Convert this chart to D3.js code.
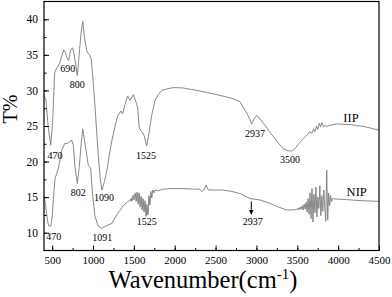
<!DOCTYPE html>
<html>
<head>
<meta charset="utf-8">
<script src="https://cdn.jsdelivr.net/npm/d3@7"></script>
<style>
  body { margin: 0; background: #fff; }
  svg text { font-family: "Liberation Serif", "Times New Roman", serif; fill: #000; }
</style>
</head>
<body>
<svg id="chart" width="392" height="297"></svg>
<script>
// FTIR spectra data (wavenumber cm-1, transmittance %)
const iipWave = [400, 424, 450, 482, 505, 531, 560, 590, 641, 660, 680, 702, 725, 751, 765, 790, 808, 830, 855, 874, 895, 926, 950, 979, 1000, 1028, 1050, 1069, 1090, 1110, 1140, 1171, 1200, 1232, 1270, 1302, 1342, 1363, 1390, 1424, 1453, 1493, 1530, 1547, 1566, 1596, 1624, 1657, 1685, 1718, 1758, 1800, 1840, 1900, 1983, 2100, 2269, 2400, 2554, 2700, 2799, 2860, 2888, 2920, 2942, 2970, 3003, 3050, 3105, 3160, 3227, 3290, 3329, 3390, 3430, 3472, 3510, 3554, 3600, 3635, 3650, 3680, 3700, 3715, 3735, 3750, 3770, 3785, 3800, 3820, 3840, 3860, 3900, 3982, 4050, 4145, 4230, 4308, 4400, 4500];
const iipT = [29.4, 28.6, 25.0, 22.3, 25.5, 32.6, 33.2, 33.8, 35.7, 35.4, 34.6, 34.2, 35.6, 36.0, 35.2, 33.5, 32.1, 35.0, 38.2, 39.7, 37.5, 35.4, 35.1, 34.4, 31.5, 27.2, 23.2, 20.2, 17.4, 16.0, 17.2, 18.8, 21.0, 23.0, 25.0, 26.4, 27.1, 26.7, 28.0, 29.2, 28.6, 29.4, 28.2, 27.5, 24.7, 24.2, 23.7, 22.2, 24.0, 26.5, 28.6, 29.4, 30.0, 30.2, 30.4, 30.35, 30.0, 29.7, 29.3, 28.9, 28.4, 27.2, 26.7, 25.9, 25.3, 26.0, 26.5, 25.9, 25.1, 24.2, 23.2, 22.3, 21.8, 21.5, 21.5, 21.8, 22.4, 23.0, 23.5, 23.9, 24.2, 24.0, 24.6, 24.2, 25.0, 24.5, 25.4, 24.9, 25.5, 24.9, 25.1, 24.95, 25.1, 25.3, 25.25, 25.2, 25.05, 24.95, 24.7, 24.4];

const nipWave = [400, 420, 437, 455, 482, 500, 514, 535, 575, 617, 657, 685, 710, 739, 759, 779, 808, 832, 855, 874, 902, 942, 972, 996, 1024, 1065, 1106, 1167, 1229, 1290, 1371, 1420, 1460, 1466, 1472, 1478, 1484, 1490, 1496, 1502, 1508, 1514, 1520, 1526, 1532, 1538, 1544, 1550, 1556, 1562, 1568, 1574, 1580, 1586, 1592, 1598, 1604, 1610, 1616, 1622, 1628, 1634, 1640, 1646, 1652, 1658, 1664, 1670, 1676, 1682, 1688, 1694, 1700, 1706, 1712, 1718, 1724, 1730, 1736, 1748, 1760, 1800, 1850, 1942, 2100, 2309, 2330, 2360, 2383, 2411, 2500, 2594, 2700, 2799, 2921, 3044, 3150, 3248, 3370, 3450, 3500, 3512, 3524, 3536, 3548, 3560, 3572, 3584, 3596, 3608, 3620, 3632, 3644, 3656, 3668, 3680, 3692, 3704, 3716, 3728, 3740, 3752, 3764, 3776, 3788, 3800, 3812, 3824, 3836, 3848, 3860, 3872, 3884, 3896, 3908, 3920, 3932, 3960, 4100, 4300, 4500];
const nipT = [15.2, 13.8, 12.2, 11.0, 10.9, 12.2, 14.6, 17.6, 19.0, 21.6, 22.6, 22.5, 22.8, 23.0, 22.3, 19.3, 16.9, 19.3, 22.5, 24.6, 22.5, 19.5, 19.0, 15.1, 12.3, 10.9, 10.6, 11.0, 11.3, 12.5, 13.8, 14.3, 14.7, 14.4, 14.9, 14.5, 14.6, 15.3, 15.2, 14.6, 14.8, 15.6, 15.5, 14.4, 14.6, 15.7, 15.4, 14.0, 14.2, 15.6, 15.3, 13.6, 13.8, 15.1, 14.9, 13.2, 13.4, 14.8, 14.6, 12.9, 13.0, 14.5, 14.2, 12.3, 12.4, 14.0, 13.6, 12.5, 12.8, 15.2, 15.0, 13.9, 14.2, 15.8, 15.6, 14.9, 15.2, 16.0, 15.9, 15.6, 16.0, 15.9, 16.1, 16.2, 16.2, 16.1, 15.8, 16.0, 16.7, 16.0, 16.0, 16.0, 15.8, 15.5, 14.8, 14.6, 14.2, 13.7, 13.2, 13.2, 13.3, 13.5, 13.2, 13.6, 13.3, 13.8, 13.2, 14.0, 13.3, 14.3, 12.9, 14.8, 12.6, 15.6, 12.0, 16.2, 11.5, 15.4, 12.8, 16.4, 12.2, 15.0, 13.4, 16.6, 12.4, 15.2, 13.0, 16.0, 13.6, 11.6, 18.8, 11.8, 15.6, 13.8, 15.2, 14.4, 14.8, 14.75, 14.65, 14.5, 14.4];

// peak annotations: text, wavenumber, T (anchor for label centre/baseline)
const peakLabels = ["690", "800", "470", "1525", "2937", "3500", "802", "1090", "1525", "470", "1091", "2937"];
const peakWave = [690, 808, 535, 1648, 2982, 3411, 820, 1134, 1657, 519, 1114, 2954];
const peakT = [32.6, 30.3, 20.4, 20.4, 23.5, 19.8, 15.2, 14.5, 11.1, 9.0, 8.9, 11.1];

const seriesNames = ["IIP", "NIP"];
const seriesLabelWave = [4157, 4227];
const seriesLabelT = [25.6, 15.2];

const xTicks = [500, 1000, 1500, 2000, 2500, 3000, 3500, 4000, 4500];
const yTicks = [10, 15, 20, 25, 30, 35, 40];

const svg = d3.select("#chart");
const plotLeft = 44, plotRight = 379, plotTop = 1.5, plotBottom = 250.5;

const x = d3.scaleLinear().domain([400, 4500]).range([plotLeft, plotRight]);
const y = d3.scaleLinear().domain([7.5, 42.5]).range([plotBottom, plotTop]);

// curves
const line = d3.line().x(d => x(d[0])).y(d => y(d[1]));
const iip = iipWave.map((w, i) => [w, iipT[i]]);
const nip = nipWave.map((w, i) => [w, nipT[i]]);

[iip, nip].forEach(d => {
  svg.append("path")
    .datum(d)
    .attr("d", line)
    .attr("fill", "none")
    .attr("stroke", "#7a7a7a")
    .attr("stroke-width", 0.9)
    .attr("stroke-linejoin", "round");
});

// axes with inward ticks
const xMinor = d3.range(500, 4500, 250);
svg.append("g")
  .attr("transform", `translate(0,${plotBottom})`)
  .call(d3.axisBottom(x).tickValues(xMinor).tickSize(-2.5).tickFormat(""))
  .call(g => g.select(".domain").remove());
svg.append("g")
  .attr("transform", `translate(0,${plotBottom})`)
  .call(d3.axisBottom(x).tickValues(xTicks).tickSize(-5).tickPadding(6).tickFormat(d3.format("d")))
  .call(g => g.select(".domain").remove())
  .call(g => g.selectAll("text").attr("font-size", 11).attr("font-family", "Liberation Serif"));

const yMinor = d3.range(10, 42.5, 2.5);
svg.append("g")
  .attr("transform", `translate(${plotLeft},0)`)
  .call(d3.axisLeft(y).tickValues(yMinor).tickSize(-2.5).tickFormat(""))
  .call(g => g.select(".domain").remove());
svg.append("g")
  .attr("transform", `translate(${plotLeft},0)`)
  .call(d3.axisLeft(y).tickValues(yTicks).tickSize(-5).tickPadding(6).tickFormat(d3.format("d")))
  .call(g => g.select(".domain").remove())
  .call(g => g.selectAll("text").attr("font-size", 11.5).attr("font-family", "Liberation Serif"));

// frame
svg.append("rect")
  .attr("x", plotLeft).attr("y", plotTop)
  .attr("width", plotRight - plotLeft).attr("height", plotBottom - plotTop)
  .attr("fill", "none").attr("stroke", "#000").attr("stroke-width", 1.2);

// peak labels
peakLabels.forEach((t, i) => {
  svg.append("text")
    .attr("x", x(peakWave[i])).attr("y", y(peakT[i]))
    .attr("text-anchor", "middle")
    .attr("font-size", 10)
    .text(t);
});

seriesNames.forEach((t, i) => {
  svg.append("text")
    .attr("x", x(seriesLabelWave[i])).attr("y", y(seriesLabelT[i]))
    .attr("text-anchor", "middle")
    .attr("font-size", 12.5)
    .text(t);
});

// arrow on NIP at 2937
svg.append("defs").append("marker")
  .attr("id", "arrow").attr("viewBox", "0 0 10 10")
  .attr("refX", 9).attr("refY", 5)
  .attr("markerWidth", 5).attr("markerHeight", 6)
  .attr("orient", "auto")
  .append("path").attr("d", "M0,0L10,5L0,10Z").attr("fill", "#000");
svg.append("line")
  .attr("x1", x(2937)).attr("x2", x(2937))
  .attr("y1", y(14.4)).attr("y2", y(12.6))
  .attr("stroke", "#000").attr("stroke-width", 1)
  .attr("marker-end", "url(#arrow)");

// axis titles
svg.append("text")
  .attr("transform", "translate(16.5,109) rotate(-90)")
  .attr("text-anchor", "middle")
  .attr("font-size", 20)
  .text("T%");

const xt = svg.append("text")
  .attr("x", 203).attr("y", 288)
  .attr("text-anchor", "middle")
  .attr("font-size", 24.5)
  .text("Wavenumber(cm");
xt.append("tspan").attr("font-size", 15).attr("dy", -9).text("-1");
xt.append("tspan").attr("dy", 9).text(")");
</script>
</body>
</html>
